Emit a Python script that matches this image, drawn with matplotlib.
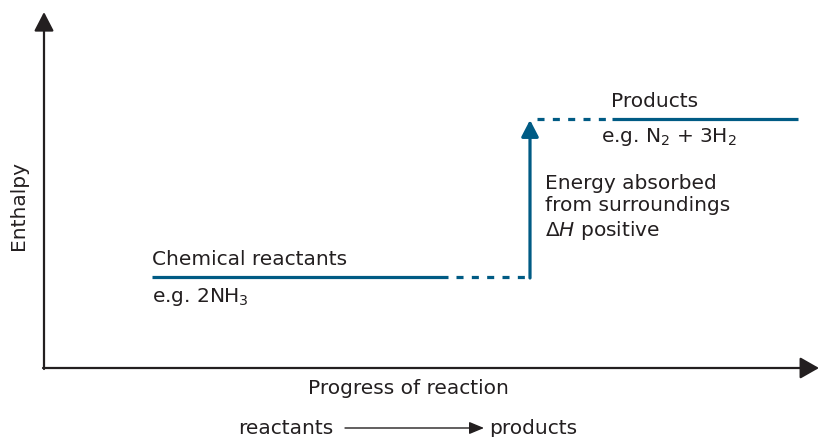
import matplotlib.pyplot as plt

# enthalpy levels (arbitrary units, figure px from bottom)
stages = ['Chemical reactants', 'Products']
examples = [r'e.g. 2NH$_3$', r'e.g. N$_2$ + 3H$_2$']
levels = [160, 318]
solid_x = [(152, 448), (612, 798)]
dotted_x = [(456, 530), (537, 611)]

blue = '#005b84'
ink = '#231f20'

fig = plt.figure(figsize=(8.22, 4.37), dpi=100)
ax = fig.add_axes([0, 0, 1, 1])
ax.set_xlim(0, 822)
ax.set_ylim(0, 437)
ax.axis('off')

# axes with arrows
x0, y0 = 44, 69
ax.annotate('', xy=(x0, 425), xytext=(x0, y0 - 1),
            arrowprops=dict(arrowstyle='-|>,head_length=0.58,head_width=0.3',
                            mutation_scale=20, lw=1.6, color=ink,
                            shrinkA=0, shrinkB=0))
ax.annotate('', xy=(819, y0), xytext=(x0 - 1, y0),
            arrowprops=dict(arrowstyle='-|>,head_length=0.58,head_width=0.33',
                            mutation_scale=20, lw=1.6, color=ink,
                            shrinkA=0, shrinkB=0))

# energy levels
for (xs, xe), (ds, de), lv in zip(solid_x, dotted_x, levels):
    ax.plot([xs, xe], [lv, lv], color=blue, lw=2.3, solid_capstyle='butt')
    ax.plot([ds, de], [lv, lv], color=blue, lw=2.3,
            linestyle=(0, (2.2, 2.6)), dash_capstyle='butt')

# enthalpy change arrow
ax.annotate('', xy=(530, levels[1] - 1), xytext=(530, levels[0] - 1),
            arrowprops=dict(arrowstyle='-|>,head_length=0.5,head_width=0.26',
                            mutation_scale=20, lw=2.3, color=blue,
                            shrinkA=0, shrinkB=0))

fs = 14.5
ax.text(152, levels[0] + 8, stages[0], fontsize=fs, color=ink, va='bottom')
ax.text(152, levels[0] - 9, examples[0], fontsize=fs, color=ink, va='top')
ax.text(611, levels[1] + 8, stages[1], fontsize=fs, color=ink, va='bottom')
ax.text(601, levels[1] - 7, examples[1], fontsize=fs, color=ink, va='top')

ax.text(545, 229, 'Energy absorbed\nfrom surroundings\n' + r'$\Delta\mathit{H}$ positive',
        fontsize=fs, color=ink, va='center', linespacing=1.22)

ax.text(19, 232, 'Enthalpy', fontsize=fs, color=ink, rotation=90,
        ha='center', va='center')
ax.text(408, 49, 'Progress of reaction', fontsize=fs, color=ink,
        ha='center', va='center')

ax.text(238, 9, 'reactants', fontsize=fs, color=ink, va='center')
ax.annotate('', xy=(484, 9), xytext=(345, 9),
            arrowprops=dict(arrowstyle='-|>,head_length=0.6,head_width=0.25',
                            mutation_scale=15, lw=1.0, color=ink,
                            shrinkA=0, shrinkB=0))
ax.text(489, 9, 'products', fontsize=fs, color=ink, va='center')

fig.savefig('out.png', dpi=100)
